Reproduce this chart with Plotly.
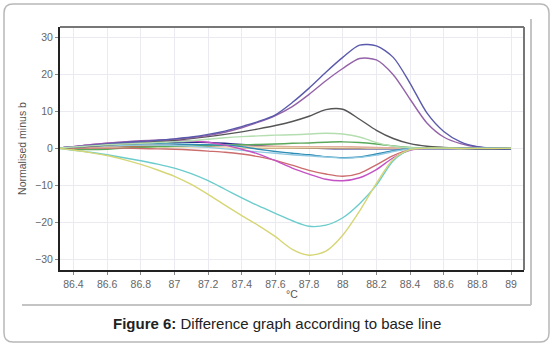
import plotly.graph_objects as go

temps = [86.3, 86.4, 86.5, 86.6, 86.7, 86.8, 86.9, 87.0, 87.1, 87.2, 87.3, 87.4, 87.5, 87.6,
         87.7, 87.8, 87.9, 88.0, 88.1, 88.2, 88.3, 88.4, 88.5, 88.6, 88.7, 88.8, 88.9, 89.0]

s_navy = [0, 0.3, 0.6, 0.9, 1.2, 1.4, 1.5, 1.6, 1.6, 1.5, 1.3, 1.0, 0.7, 0.4, 0.2, 0, -0.1, -0.2,
          -0.2, -0.2, -0.2, -0.2, -0.2, -0.2, -0.2, -0.3, -0.3, -0.3]
s_brown = [0, 0.1, 0.2, 0.3, 0.4, 0.5, 0.5, 0.5, 0.4, 0.3, 0.2, 0.1, 0.1, 0, 0, 0, 0, 0,
           0, 0, 0, 0, 0, 0, 0, 0, 0, 0]
s_beige = [0, 0.1, 0.1, 0.2, 0.2, 0.2, 0.2, 0.2, 0.2, 0.2, 0.2, 0.1, 0.1, 0.1, 0.1, 0.1, 0.1, 0.1,
           0.1, 0, 0, 0, 0, 0, 0, 0, 0, 0]
s_salmon = [0, 0.2, 0.4, 0.6, 0.8, 0.9, 1.0, 1.0, 0.9, 0.8, 0.7, 0.6, 0.5, 0.5, 0.4, 0.4, 0.4, 0.4,
            0.3, 0.2, 0.1, 0, 0, 0, 0, 0, 0, 0]
s_green = [0, -0.3, -0.4, -0.3, 0, 0.2, 0.4, 0.5, 0.6, 0.7, 0.8, 0.9, 1.0, 1.1, 1.3, 1.4, 1.6, 1.7,
           1.5, 1.1, 0.6, 0.2, 0, 0, 0, 0, 0, 0]
s_lightgreen = [0, 0.3, 0.6, 0.9, 1.1, 1.3, 1.5, 1.7, 2.0, 2.4, 2.8, 3.1, 3.3, 3.5, 3.6, 3.8, 4.0, 3.8,
                3.0, 1.5, 0.5, 0.1, 0, 0, -0.1, -0.1, -0.1, -0.1]
s_teal = [0, 0.3, 0.6, 0.8, 1.0, 1.1, 1.2, 1.1, 1.0, 0.9, 0.8, 0.4, -0.3, -0.9, -1.4, -1.8, -2.3, -2.6,
          -2.4, -1.6, -0.7, -0.1, 0, 0, 0, 0, 0, 0]
s_lightblue = [0, 0.2, 0.4, 0.6, 0.7, 0.8, 0.8, 0.7, 0.5, 0.2, -0.2, -0.6, -1.0, -1.4, -1.8, -2.1, -2.4, -2.7,
               -2.5, -1.9, -0.9, -0.2, 0, 0, 0, 0, 0, 0]
s_red = [0, 0, 0, 0, 0, -0.1, -0.2, -0.3, -0.5, -0.8, -1.1, -1.6, -2.3, -3.3, -4.6, -6.0, -7.0, -7.6,
         -6.8, -4.5, -2.0, -0.4, 0, 0, 0, 0, 0, 0]
s_magenta = [0, 0.4, 0.9, 1.3, 1.6, 1.8, 2.0, 2.1, 2.0, 1.6, 0.8, -0.3, -1.6, -3.4, -5.4, -7.0, -8.4, -8.8,
             -8.0, -5.8, -2.6, -0.6, 0, 0, 0, 0, 0, 0]
s_gray = [0, 0.2, 0.5, 0.8, 1.1, 1.4, 1.8, 2.1, 2.6, 3.1, 3.7, 4.4, 5.2, 6.1, 7.2, 8.6, 10.4, 10.5,
          7.8, 4.8, 2.6, 1.2, 0.5, 0.2, 0, 0, 0, 0]
s_purple = [0, 0.4, 0.9, 1.3, 1.7, 2.0, 2.2, 2.4, 2.8, 3.4, 4.3, 5.5, 7.0, 8.8, 11.2, 14.5, 18.2, 21.5,
            24.2, 23.8, 19.8, 13.2, 6.8, 3.0, 1.2, 0.3, 0, 0]
s_blue = [0, 0.3, 0.7, 1.1, 1.5, 1.8, 2.1, 2.5, 3.0, 3.7, 4.6, 5.8, 7.2, 9.0, 12.3, 16.2, 20.5, 24.5,
          27.8, 27.6, 24.5, 17.5, 9.5, 4.5, 1.7, 0.4, 0, -0.2]
s_cyan = [0, -0.6, -1.1, -1.8, -2.6, -3.4, -4.3, -5.4, -6.9, -8.8, -11.1, -13.4, -15.6, -17.6, -19.6, -21.1, -20.8, -18.8,
          -15.0, -10.0, -3.4, -0.4, 0, 0, 0, 0, 0, 0]
s_yellow = [0, -0.5, -1.2, -2.0, -3.1, -4.4, -5.9, -7.6, -9.8, -12.5, -15.4, -18.2, -20.9, -23.9, -27.3, -28.9, -27.8, -23.5,
            -17.0, -9.5, -3.0, -0.4, 0, 0, -0.1, -0.1, -0.1, 0]

tick_vals = [86.4, 86.6, 86.8, 87.0, 87.2, 87.4, 87.6, 87.8, 88.0, 88.2, 88.4, 88.6, 88.8, 89.0]
tick_text = ["86.4", "86.6", "86.8", "87", "87.2", "87.4", "87.6", "87.8", "88",
             "88.2", "88.4", "88.6", "88.8", "89"]
y_ticks = [-30, -20, -10, 0, 10, 20, 30]

series = [
    (s_navy, "#2a2a88"),
    (s_brown, "#9a5a2a"),
    (s_beige, "#efe2b8"),
    (s_salmon, "#e2b0a0"),
    (s_green, "#5aa85a"),
    (s_teal, "#2f8db5"),
    (s_lightblue, "#92c9e2"),
    (s_red, "#cc6c6c"),
    (s_magenta, "#c452c4"),
    (s_gray, "#555555"),
    (s_purple, "#9462a8"),
    (s_blue, "#5a5aac"),
    (s_lightgreen, "#b4deb0"),
    (s_cyan, "#6ccccc"),
    (s_yellow, "#d6d676"),
]

fig = go.Figure()
for ys, col in series:
    fig.add_trace(go.Scatter(x=temps, y=ys, mode="lines",
                             line=dict(color=col, width=1.4, shape="spline", smoothing=0.8),
                             showlegend=False, hoverinfo="skip"))

W, H = 553, 347
L, R, T, B = 60, 524, 27, 270

def px(x):
    return (x - L) / (R - L)

def py(y):
    return (B - y) / (B - T)

shapes = []
x0, y0, x1, y1, r = 4, 4, 549, 342, 9
path = (f"M {px(x0+r)},{py(y0)} L {px(x1-r)},{py(y0)} Q {px(x1)},{py(y0)} {px(x1)},{py(y0+r)} "
        f"L {px(x1)},{py(y1-r)} Q {px(x1)},{py(y1)} {px(x1-r)},{py(y1)} "
        f"L {px(x0+r)},{py(y1)} Q {px(x0)},{py(y1)} {px(x0)},{py(y1-r)} "
        f"L {px(x0)},{py(y0+r)} Q {px(x0)},{py(y0)} {px(x0+r)},{py(y0)} Z")
shapes.append(dict(type="path", xref="paper", yref="paper", path=path,
                   line=dict(color="#b8b8b8", width=1.5), layer="below"))
shapes.append(dict(type="line", xref="paper", yref="paper", x0=px(22), x1=px(531), y0=py(305), y1=py(305),
                   line=dict(color="#c4c4c4", width=2)))
shapes.append(dict(type="line", xref="paper", yref="paper", x0=px(531), x1=px(531), y0=py(19), y1=py(305),
                   line=dict(color="#c4c4c4", width=2)))
shapes.append(dict(type="line", xref="paper", yref="paper", x0=0, x1=1, y0=1, y1=1,
                   line=dict(color="#777777", width=2)))
shapes.append(dict(type="line", xref="paper", yref="paper", x0=1, x1=1, y0=0, y1=1,
                   line=dict(color="#777777", width=2)))

fig.update_layout(
    width=W, height=H,
    margin=dict(l=L, r=W - R, t=T, b=H - B, pad=0),
    paper_bgcolor="white", plot_bgcolor="white",
    font=dict(family="Liberation Sans, Arial, sans-serif", color="#555555", size=10),
    shapes=shapes,
    annotations=[
        dict(text="<b>Figure 6:</b> Difference graph according to base line",
             xref="paper", yref="paper", x=px(277), y=py(323), xanchor="center", yanchor="middle",
             showarrow=False, font=dict(size=15, color="#222222",
                                        family="Liberation Sans, Arial, sans-serif")),
    ],
)
fig.update_xaxes(range=[86.32, 89.077], tickvals=tick_vals, ticktext=tick_text,
                 showgrid=True, gridcolor="#eaeaf0", gridwidth=1, zeroline=False,
                 showline=True, linecolor="#222222", linewidth=2,
                 ticks="outside", ticklen=3, tickcolor="#888888",
                 tickfont=dict(size=10.5, color="#666666"),
                 title=dict(text="°C", font=dict(size=10.5, color="#555555"), standoff=2))
fig.update_yaxes(range=[-32.9, 32.7], tickvals=y_ticks,
                 showgrid=True, gridcolor="#eaeaf0", gridwidth=1, zeroline=False,
                 showline=True, linecolor="#222222", linewidth=2,
                 ticks="outside", ticklen=3, tickcolor="#888888",
                 tickfont=dict(size=10.5, color="#666666"),
                 title=dict(text="Normalised minus b", font=dict(size=10.5, color="#555555"), standoff=6))

fig.write_html("out.html", config={"displayModeBar": False, "staticPlot": True},
               post_script="document.body.style.margin='0';document.body.style.overflow='hidden';")
